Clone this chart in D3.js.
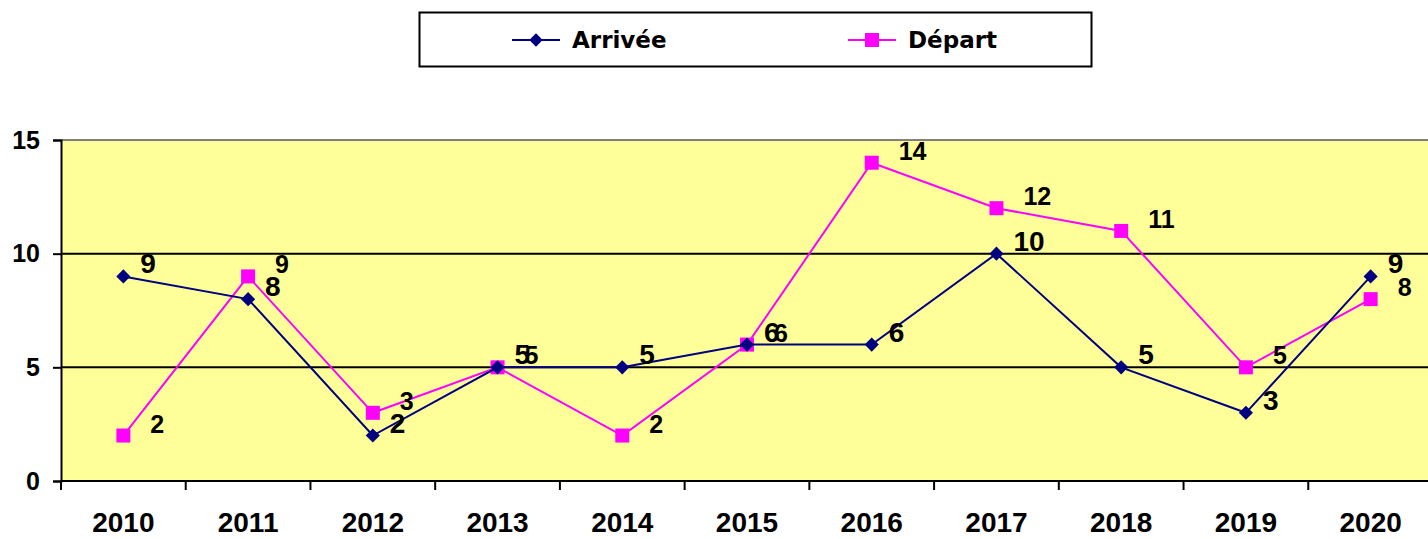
<!DOCTYPE html>
<html>
<head>
<meta charset="utf-8">
<script src="https://cdn.jsdelivr.net/npm/d3@7"></script>
<style>
  body { margin: 0; background: #fff; }
  text { font-family: "Liberation Sans", Arial, sans-serif; font-weight: bold; }
</style>
</head>
<body>
<div id="chart"></div>
<script>
// chart data
var years = ["2010", "2011", "2012", "2013", "2014", "2015", "2016", "2017", "2018", "2019", "2020"];
var arrivee = [9, 8, 2, 5, 5, 6, 6, 10, 5, 3, 9];
var depart = [2, 9, 3, 5, 2, 6, 14, 12, 11, 5, 8];
var yTicks = [0, 5, 10, 15];

var svgWidth = 1428;
var svgHeight = 539;

var plot = { left: 61, right: 1433, top: 140, bottom: 481 };

var svg = d3.select("#chart")
  .append("svg")
  .attr("width", svgWidth)
  .attr("height", svgHeight);

var x = d3.scaleBand()
  .domain(years)
  .range([plot.left, plot.right])
  .padding(0);

var y = d3.scaleLinear()
  .domain([0, 15])
  .range([plot.bottom, plot.top]);

// plot background
svg.append("rect")
  .attr("x", plot.left)
  .attr("y", plot.top)
  .attr("width", plot.right - plot.left)
  .attr("height", plot.bottom - plot.top)
  .attr("fill", "#FFFF99");

// top border (gray)
svg.append("line")
  .attr("x1", plot.left).attr("x2", plot.right)
  .attr("y1", y(15)).attr("y2", y(15))
  .attr("stroke", "#808080").attr("stroke-width", 2);

// gridlines
svg.selectAll(".grid")
  .data([5, 10])
  .enter()
  .append("line")
  .attr("x1", plot.left).attr("x2", plot.right)
  .attr("y1", d => y(d)).attr("y2", d => y(d))
  .attr("stroke", "#000").attr("stroke-width", 2);

// y axis
var yAxis = svg.append("g")
  .attr("transform", `translate(${plot.left},0)`)
  .call(d3.axisLeft(y).tickValues(yTicks).tickSize(8).tickPadding(13));
yAxis.select(".domain").attr("stroke", "#000").attr("stroke-width", 2);
yAxis.selectAll(".tick line").attr("stroke-width", 2);
yAxis.selectAll("text")
  .style("font-size", "25px")
  .style("font-family", "'Liberation Sans', Arial, sans-serif")
  .style("font-weight", "bold")
  .attr("fill", "#000");

// x axis (labels centred in each band, ticks at band edges)
var xAxis = svg.append("g")
  .attr("transform", `translate(0,${plot.bottom})`)
  .call(d3.axisBottom(x).tickSize(0).tickPadding(31));
xAxis.select(".domain").remove();
xAxis.selectAll("text")
  .style("font-size", "28px")
  .style("font-family", "'Liberation Sans', Arial, sans-serif")
  .style("font-weight", "bold")
  .attr("fill", "#000");

svg.append("line")
  .attr("x1", plot.left).attr("x2", plot.right)
  .attr("y1", plot.bottom).attr("y2", plot.bottom)
  .attr("stroke", "#000").attr("stroke-width", 2);

svg.selectAll(".xtick")
  .data(years.slice(1).concat(["end"]))
  .enter()
  .append("line")
  .attr("x1", (d, i) => x(years[0]) + (i + 1) * x.bandwidth())
  .attr("x2", (d, i) => x(years[0]) + (i + 1) * x.bandwidth())
  .attr("y1", plot.bottom)
  .attr("y2", plot.bottom + 9)
  .attr("stroke", "#000").attr("stroke-width", 2);

svg.append("line")
  .attr("x1", plot.left).attr("x2", plot.left)
  .attr("y1", plot.bottom).attr("y2", plot.bottom + 9)
  .attr("stroke", "#000").attr("stroke-width", 2);

var cx = d => x(d) + x.bandwidth() / 2;

function drawSeries(values, color, marker, dx, dy, fontSize) {
  var line = d3.line()
    .x((d, i) => cx(years[i]))
    .y(d => y(d));

  svg.append("path")
    .datum(values)
    .attr("d", line)
    .attr("fill", "none")
    .attr("stroke", color)
    .attr("stroke-width", 2);

  if (marker === "diamond") {
    svg.selectAll(null)
      .data(values)
      .enter()
      .append("path")
      .attr("d", d3.symbol().type(d3.symbolSquare).size(100))
      .attr("transform", (d, i) => `translate(${cx(years[i])},${y(d)}) rotate(45)`)
      .attr("fill", color);
  } else {
    svg.selectAll(null)
      .data(values)
      .enter()
      .append("rect")
      .attr("x", (d, i) => cx(years[i]) - 7)
      .attr("y", d => y(d) - 7)
      .attr("width", 14)
      .attr("height", 14)
      .attr("fill", color);
  }

  svg.selectAll(null)
    .data(values)
    .enter()
    .append("text")
    .attr("x", (d, i) => cx(years[i]) + dx)
    .attr("y", d => y(d) + dy)
    .style("font-size", fontSize + "px")
    .attr("fill", "#000")
    .text(d => d);
}

drawSeries(depart, "#FF00FF", "square", 27, -3, 25);
drawSeries(arrivee, "#000080", "diamond", 17, -3, 28);

// legend
var legend = svg.append("g");
legend.append("rect")
  .attr("x", 419.5).attr("y", 12.5)
  .attr("width", 672).attr("height", 54)
  .attr("fill", "#fff")
  .attr("stroke", "#000").attr("stroke-width", 2);

var legendItems = [
  { name: "Arrivée", color: "#000080", marker: "diamond", x: 512 },
  { name: "Départ", color: "#FF00FF", marker: "square", x: 848 }
];

legendItems.forEach(function(item) {
  legend.append("line")
    .attr("x1", item.x).attr("x2", item.x + 48)
    .attr("y1", 40).attr("y2", 40)
    .attr("stroke", item.color).attr("stroke-width", 2);
  if (item.marker === "diamond") {
    legend.append("path")
      .attr("d", d3.symbol().type(d3.symbolSquare).size(90))
      .attr("transform", `translate(${item.x + 24},40) rotate(45)`)
      .attr("fill", item.color);
  } else {
    legend.append("rect")
      .attr("x", item.x + 17).attr("y", 33)
      .attr("width", 14).attr("height", 14)
      .attr("fill", item.color);
  }
  legend.append("text")
    .attr("x", item.x + 60)
    .attr("y", 48)
    .style("font-family", "'Comic Sans MS', 'DejaVu Sans', sans-serif")
    .style("font-size", "23px")
    .attr("fill", "#000")
    .text(item.name);
});
</script>
</body>
</html>
